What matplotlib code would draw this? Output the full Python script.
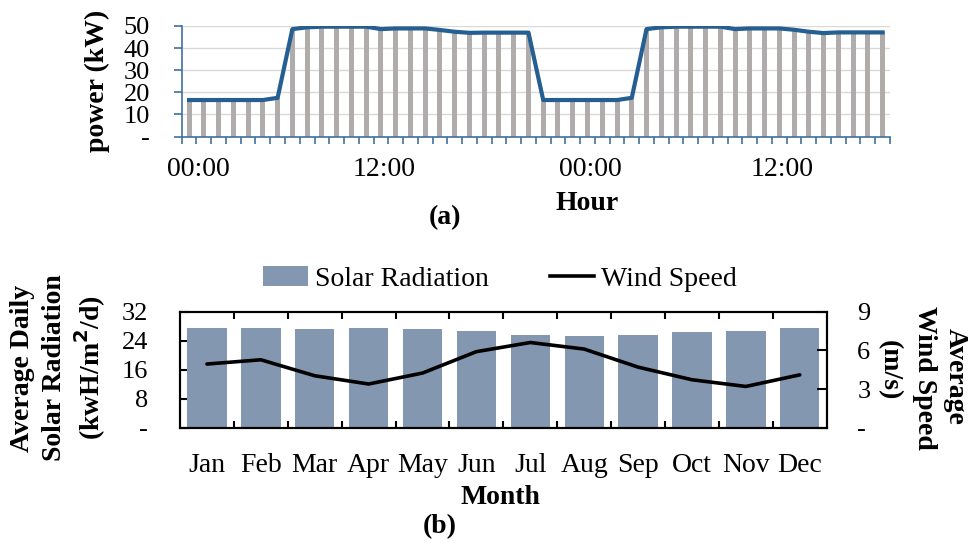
import matplotlib
matplotlib.use("Agg")
import matplotlib.pyplot as plt
import numpy as np
from matplotlib.patches import Patch
from matplotlib.lines import Line2D

plt.rcParams["font.family"] = ["Liberation Serif", "DejaVu Serif"]

# ---- data: (a) hourly load over two days ----
day1_kw = [16.5, 16.5, 16.5, 16.5, 16.5, 16.5, 17.5, 48.6, 49.4, 49.7, 49.7, 49.7,
           49.7, 48.6, 48.9, 48.9, 48.9, 48.2, 47.4, 46.9, 47.0, 47.0, 47.0, 47.0]
day2_kw = [16.5, 16.5, 16.5, 16.5, 16.5, 16.5, 17.5, 48.6, 49.4, 49.7, 49.7, 49.7,
           49.7, 48.6, 48.9, 48.9, 48.9, 48.3, 47.4, 46.8, 47.1, 47.1, 47.1, 47.1]
power_kw = day1_kw + day2_kw
hour_labels = ["00:00", "12:00", "00:00", "12:00"]
hour_label_pos = [0.6, 13.2, 27.2, 40.2]
power_ticks = [0, 10, 20, 30, 40, 50]
power_ticklabels = ["-", "10", "20", "30", "40", "50"]

# ---- data: (b) monthly solar radiation and wind speed ----
months = ["Jan", "Feb", "Mar", "Apr", "May", "Jun",
          "Jul", "Aug", "Sep", "Oct", "Nov", "Dec"]
solar_rad = [27.5, 27.5, 27.2, 27.5, 27.2, 26.6, 25.5, 25.2, 25.5, 26.4, 26.8, 27.5]
wind_speed = [4.94, 5.27, 4.03, 3.39, 4.24, 5.9, 6.61, 6.1, 4.7, 3.72, 3.2, 4.1]
solar_ticks = [0, 8, 16, 24, 32]
solar_ticklabels = ["-", "8", "16", "24", "32"]
wind_ticks = [0, 3, 6, 9]
wind_ticklabels = ["-", "3", "6", "9"]

W, H = 974, 544
TICK_FS = 19
XTICK_FS = 20
LABEL_FS = 20

fig = plt.figure(figsize=(W / 100, H / 100), dpi=100)

# ---------------- (a) ----------------
axa = fig.add_axes([181.7 / W, 1 - 136.5 / H, (890 - 181.7) / W, (136.5 - 26) / H])
x = np.arange(len(power_kw))
axa.bar(x, power_kw, width=0.34, color="#b0acab", zorder=2)
axa.plot(x, power_kw, color="#255e91", lw=3.0, zorder=3, solid_joinstyle="round")
axa.set_xlim(-0.5, len(power_kw) - 0.5)
axa.set_ylim(0, 50)
axa.yaxis.grid(True, color="#d9d9d9", lw=1.0, zorder=0)
axa.set_axisbelow(True)
for s in ["top", "right"]:
    axa.spines[s].set_visible(False)
for s in ["left", "bottom"]:
    axa.spines[s].set_color("#41719c")
    axa.spines[s].set_linewidth(1.2)
axa.set_yticks(power_ticks)
axa.set_yticklabels(power_ticklabels, fontsize=TICK_FS)
axa.tick_params(axis="y", direction="out", length=6, width=1.2, color="#41719c", pad=17)
axa.set_xticks(np.arange(len(power_kw) + 1) - 0.5, minor=True)
axa.set_xticks(hour_label_pos)
axa.set_xticklabels(hour_labels, fontsize=XTICK_FS)
axa.tick_params(axis="x", which="major", length=0, pad=15)
axa.tick_params(axis="x", which="minor", direction="out", length=5, width=1.2, color="#41719c")

fig.text(97 / W, 1 - 81 / H, "power (kW)", rotation=90, ha="center", va="center",
         fontsize=LABEL_FS, fontweight="bold")
fig.text(587 / W, 1 - 203 / H, "Hour", ha="center", va="center", fontsize=LABEL_FS,
         fontweight="bold")
fig.text(445 / W, 1 - 218 / H, "(a)", ha="center", va="center", fontsize=LABEL_FS,
         fontweight="bold")

# ---------------- (b) ----------------
axb = fig.add_axes([180 / W, 1 - 427.7 / H, (826.7 - 180) / W, (427.7 - 311.7) / H])
xm = np.arange(len(months))
axb.bar(xm, solar_rad, width=0.73, color="#8497b0", zorder=2)
axb.set_xlim(-0.5, len(months) - 0.5)
axb.set_ylim(0, 32)
for s in axb.spines.values():
    s.set_color("black")
    s.set_linewidth(1.5)
axb.set_yticks(solar_ticks)
axb.set_yticklabels(solar_ticklabels, fontsize=TICK_FS)
axb.tick_params(axis="y", direction="in", length=7, width=1.5, pad=23)
axb.set_xticks(xm)
axb.set_xticklabels(months, fontsize=XTICK_FS)
axb.tick_params(axis="x", which="major", length=0, pad=18)
axb.set_xticks(np.arange(1, len(months)) - 0.5, minor=True)
axb.tick_params(axis="x", which="minor", direction="in", length=5, width=1.5,
                top=True, bottom=True)

axw = axb.twinx()
axw.plot(xm, wind_speed, color="black", lw=2.6, solid_capstyle="round", zorder=3)
axw.set_ylim(0, 9)
axw.set_yticks(wind_ticks)
axw.set_yticklabels(wind_ticklabels, fontsize=TICK_FS)
axw.tick_params(axis="y", direction="in", length=7, width=1.5, pad=22)
for s in axw.spines.values():
    s.set_linewidth(1.5)

fig.text(23 / W, 1 - 368 / H, "Average Daily", rotation=90, ha="center", va="center",
         fontsize=LABEL_FS, fontweight="bold")
fig.text(55 / W, 1 - 368 / H, "Solar Radiation", rotation=90, ha="center", va="center",
         fontsize=LABEL_FS, fontweight="bold")
fig.text(90 / W, 1 - 368 / H, "(kwH/m$^\\mathbf{2}$/d)", rotation=90, ha="center",
         va="center", fontsize=LABEL_FS, fontweight="bold")
fig.text(955 / W, 1 - 376 / H, "Average", rotation=-90, ha="center", va="center",
         fontsize=LABEL_FS, fontweight="bold")
fig.text(924 / W, 1 - 378 / H, "Wind Speed", rotation=-90, ha="center", va="center",
         fontsize=LABEL_FS, fontweight="bold")
fig.text(889 / W, 1 - 370 / H, "(m/s)", rotation=-90, ha="center", va="center",
         fontsize=LABEL_FS, fontweight="bold")

fig.text(500 / W, 1 - 497 / H, "Month", ha="center", va="center", fontsize=LABEL_FS,
         fontweight="bold")
fig.text(440 / W, 1 - 527 / H, "(b)", ha="center", va="center", fontsize=LABEL_FS,
         fontweight="bold")

handles = [Patch(facecolor="#8497b0", edgecolor="none"),
           Line2D([0], [0], color="black", lw=2.6)]
fig.legend(handles, ["Solar Radiation", "Wind Speed"], loc="center",
           bbox_to_anchor=(500 / W, 1 - 279 / H), ncol=2, frameon=False,
           fontsize=XTICK_FS, handlelength=1.6, handletextpad=0.25, columnspacing=2.2)

fig.savefig("out.png", dpi=100)
